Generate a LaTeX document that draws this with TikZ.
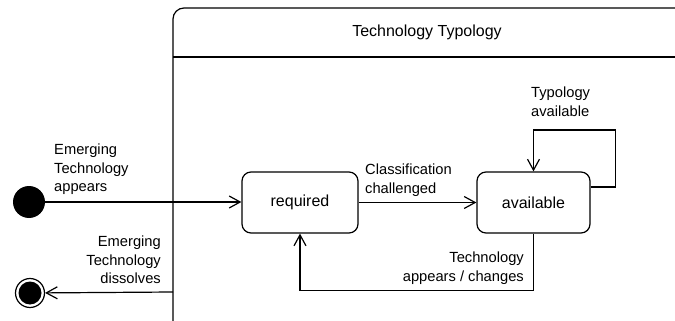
\documentclass[tikz,border=0pt]{standalone}
\usepackage{fontspec}
\setmainfont{Liberation Sans}
\usetikzlibrary{arrows.meta,positioning,calc}
\tikzset{
    ttState/.style={
        rectangle,
        draw,
        rounded corners=9pt,
        line width=1.2pt,
        minimum width=116pt,
        minimum height=61pt,
        font=\fontsize{16}{19}\selectfont
    },
    ttLabel/.style={
        font=\fontsize{14.7}{18.5}\selectfont,
        inner sep=0pt
    },
    % Pseudo states
    ttInit/.style={circle, fill=black, minimum size=32pt, inner sep=0pt},
    ttFinal/.style={circle, draw, line width=1.2pt, minimum size=29pt, inner sep=0pt,
        path picture={\fill (path picture bounding box.center) circle (11.5pt);}},
    % Arrows
    ttArrow/.style={-{Straight Barb[length=11pt,width=12pt,line width=1.2pt]}, line width=1.2pt}
}
\begin{document}
\begin{tikzpicture}[x=1pt,y=-1pt]
    \useasboundingbox (0,0) rectangle (675,321);
    \clip (0,0) rectangle (675,321);
    % composite state
    \coordinate (boxNW) at (173,8);
    \coordinate (boxExit) at (173,292);
    \draw[line width=1.2pt, rounded corners=11pt] (173,340) -- (boxNW) -- (690,8);
    \draw[line width=1.2pt] (173,57) -- (690,57);
    \node[font=\fontsize{16}{19}\selectfont, anchor=base] (title) at (427,37) {Technology Typology};
    % states
    \node[ttState] (required) at (300,202.5) {required};
    \node[ttState, minimum width=113pt] (available) at (533.5,202.5) {available};
    \node[ttInit] (start) at (29,202) {};
    \node[ttFinal] (stop) at (30,293) {};
    % transitions
    \draw[ttArrow] (start) -- (start -| required.west);
    \draw[ttArrow] (required) -- (available);
    \draw[ttArrow] ([yshift=15.5pt]available.east) -- ++(25,0) -- ++(0,-57) -| (available.north);
    \draw[ttArrow] (available.south) -- ++(0,57) -| (required.south);
    \draw[ttArrow] (boxExit) -- (stop);
    % labels
    \node[ttLabel, align=left, anchor=north west] (lblAppears) at (54,144) {Emerging\\Technology\\appears};
    \node[ttLabel, align=right, anchor=north east] (lblDissolves) at (161,236) {Emerging\\Technology\\dissolves};
    \node[ttLabel, align=left, anchor=north west] (lblChallenged) at (365,164) {Classification\\challenged};
    \node[ttLabel, align=left, anchor=north west] (lblTypology) at (531,87) {Typology\\available};
    \node[ttLabel, align=right, anchor=north east] (lblChanges) at (524,252) {Technology\\appears / changes};
\end{tikzpicture}
\end{document}
